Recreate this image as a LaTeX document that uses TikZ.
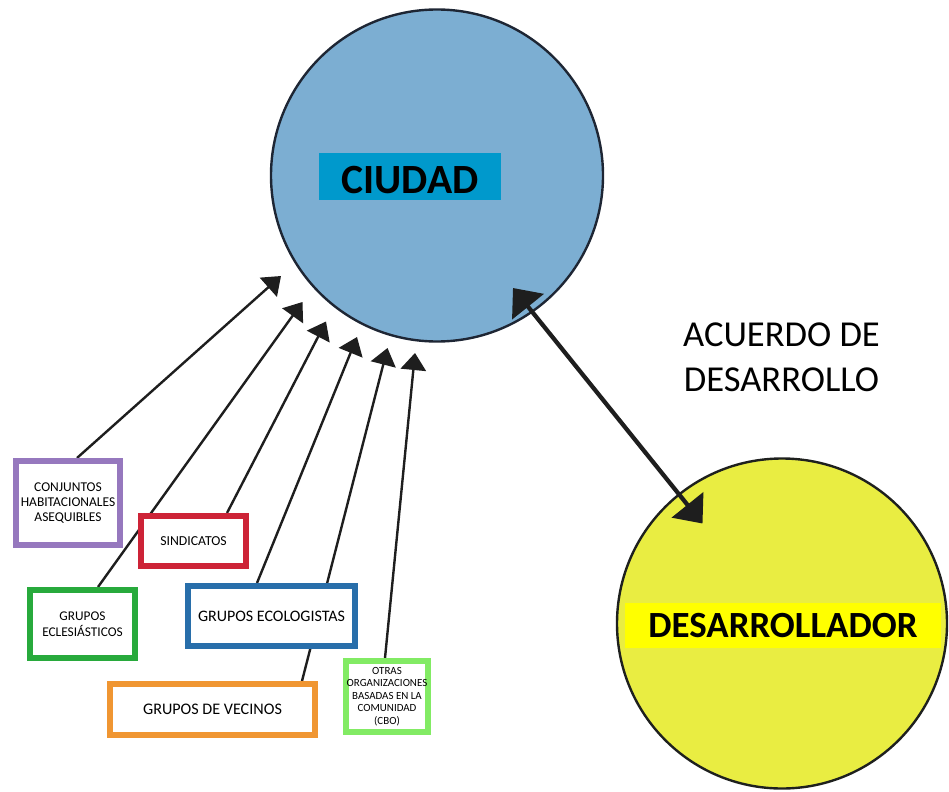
\documentclass[tikz,border=0pt]{standalone}
\usepackage{amsmath}
\usepackage{xcolor}
\usepackage{fontspec}
\setmainfont{Carlito}
\usepackage{tikz}
\usetikzlibrary{arrows.meta,backgrounds,calc}

\tikzset{
  grpbox/.style={draw, fill=white, line width=4.5pt, align=center, inner sep=0.75pt},
  toCity/.style={line width=1.8pt, draw={rgb, 255:red, 30; green, 30; blue, 30 }, -{Triangle[length=12.75pt,width=19pt]}},
  pactArrow/.style={line width=3.2pt, draw={rgb, 255:red, 30; green, 30; blue, 30 }, {Triangle[length=18pt,width=30pt]}-{Triangle[length=18pt,width=30pt]}},
}

\begin{document}
\begin{tikzpicture}[x=0.75pt,y=0.75pt,yscale=-1,xscale=1]
\useasboundingbox (0,0) rectangle (949,792);

%Shape: Circle
\draw (437,175.5) node [circle, draw={rgb, 255:red, 30; green, 38; blue, 52 }, line width=1.8pt, fill={rgb, 255:red, 124; green, 174; blue, 210 }, minimum size=249pt, inner sep=0pt] (city) {};
%Shape: Circle
\draw (782,623.5) node [circle, draw={rgb, 255:red, 30; green, 32; blue, 30 }, line width=1.8pt, fill={rgb, 255:red, 233; green, 237; blue, 66 }, minimum size=247.5pt, inner sep=0pt] (dev) {};

% Text Node
\draw (410,176.5) node [fill={rgb, 255:red, 0; green, 153; blue, 204 }, minimum width=136.5pt, minimum height=35.25pt, inner sep=0pt, text height=25.2pt, text depth=0pt, font=\fontsize{31.2}{37}\selectfont\bfseries] (cityLbl) {CIUDAD};
% Text Node
\draw (783,625.5) node [fill={rgb, 255:red, 255; green, 255; blue, 0 }, minimum width=237pt, minimum height=33.75pt, inner sep=0pt, font=\fontsize{27.7}{33}\selectfont\bfseries] (devLbl) {DESARROLLADOR};
% Text Node
\draw (781.5,357.5) node [align=center, inner sep=0.75pt, font=\fontsize{27.4}{33.75}\selectfont] (pact) {ACUERDO DE\\DESARROLLO};

%Shape: Rectangle
\draw (68,503) node [grpbox, draw={rgb, 255:red, 150; green, 120; blue, 190 }, minimum width=78pt, minimum height=63pt, font=\fontsize{10.1}{11.6}\selectfont] (conj) {CONJUNTOS\\HABITACIONALES\\ASEQUIBLES};
%Shape: Rectangle
\draw (193.5,541) node [grpbox, draw={rgb, 255:red, 205; green, 35; blue, 55 }, minimum width=78.75pt, minimum height=37.5pt, font=\fontsize{10.3}{11.6}\selectfont] (sind) {SINDICATOS};
%Shape: Rectangle
\draw (82.5,624) node [grpbox, draw={rgb, 255:red, 40; green, 170; blue, 60 }, minimum width=78.75pt, minimum height=51pt, font=\fontsize{10}{12}\selectfont] (ecles) {GRUPOS\\ECLESIÁSTICOS};
%Shape: Rectangle
\draw (271.5,616) node [grpbox, draw={rgb, 255:red, 40; green, 110; blue, 170 }, minimum width=125.25pt, minimum height=45pt, font=\fontsize{12}{14}\selectfont] (ecol) {GRUPOS ECOLOGISTAS};
%Shape: Rectangle
\draw (212.5,709.5) node [grpbox, draw={rgb, 255:red, 240; green, 150; blue, 50 }, minimum width=153.75pt, minimum height=38.25pt, font=\fontsize{12.1}{14}\selectfont] (vec) {GRUPOS DE VECINOS};
%Shape: Rectangle
\draw (387,696.5) node [grpbox, draw={rgb, 255:red, 130; green, 235; blue, 100 }, minimum width=61.5pt, minimum height=53.25pt, font=\fontsize{8.2}{9.4}\selectfont] (otras) {OTRAS\\ORGANIZACIONES\\BASADAS EN LA\\COMUNIDAD\\(CBO)};

% arrow tips at the city
\coordinate (t1) at (281,276);
\coordinate (t2) at (302.5,302);
\coordinate (t3) at (326,321.5);
\coordinate (t4) at (357,337);
\coordinate (t5) at (387.5,348);
\coordinate (t6) at (415,353);
% tips of the agreement arrow
\coordinate (pactA) at (513,288);
\coordinate (pactB) at (702.5,523.5);

\begin{scope}[on background layer]
%Straight Lines
\draw [toCity] ($(conj.north)+(9,0)$) -- (t1);
%Straight Lines
\draw [toCity] ($(ecles.north)+(15.5,0)$) -- (t2);
%Straight Lines
\draw [toCity] ($(sind.north)+(33.5,0)$) -- (t3);
%Straight Lines
\draw [toCity] ($(ecol.north)+(-14.5,0)$) -- (t4);
%Straight Lines
\draw [toCity] ($(vec.north)+(89.5,0)$) -- (t5);
%Straight Lines
\draw [toCity] ($(otras.north)+(-2,0)$) -- (t6);
\end{scope}

%Straight Lines
\draw [pactArrow] (pactA) -- (pactB);

\end{tikzpicture}
\end{document}
